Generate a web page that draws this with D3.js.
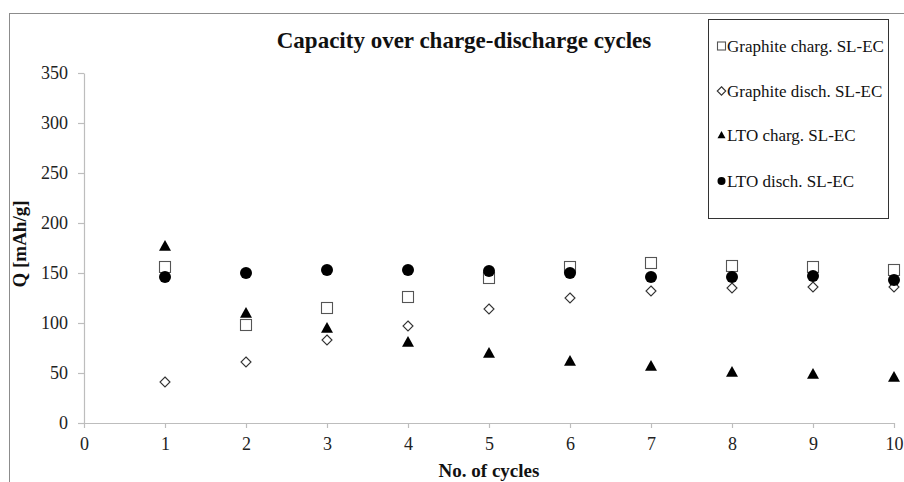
<!DOCTYPE html>
<html><head><meta charset="utf-8">
<script src="https://cdn.jsdelivr.net/npm/d3@7"></script>
<style>body{margin:0;background:#fff}svg{display:block}</style>
</head><body>
<svg id="c" width="904" height="482"></svg>
<script>
const cycles = [1,2,3,4,5,6,7,8,9,10];
const graphiteCharg = [156, 98, 115, 126, 145, 156, 160, 157, 156, 153];
const graphiteDisch = [41, 61, 83, 97, 114, 125, 132, 135, 136, 136];
const ltoCharg = [177, 110, 95, 81, 70, 62, 57, 51, 49, 46];
const ltoDisch = [146, 150, 153, 153, 152, 150, 146, 146, 147, 143];
const seriesNames = ["Graphite charg. SL-EC","Graphite disch. SL-EC","LTO charg. SL-EC","LTO disch. SL-EC"];
const xTicks = [0,1,2,3,4,5,6,7,8,9,10];
const yTicks = [0,50,100,150,200,250,300,350];

const svg = d3.select("#c");
const serif = "Liberation Serif, Times New Roman, serif";
const mL = 84, mR = 894, mT = 73, mB = 423;
const x = d3.scaleLinear().domain([0,10]).range([mL,mR]);
const y = d3.scaleLinear().domain([0,350]).range([mB,mT]);

// outer frame
svg.append("rect").attr("x",9.5).attr("y",13.5).attr("width",1000).attr("height",1000)
  .attr("fill","none").attr("stroke","#8c8c8c").attr("stroke-width",1);

// title
svg.append("text").attr("x",464).attr("y",48).attr("text-anchor","middle")
  .attr("font-family",serif).attr("font-weight","bold").attr("font-size",23).attr("fill","#111")
  .text("Capacity over charge-discharge cycles");

// axes
const ya = svg.append("g").attr("transform",`translate(${mL},0)`)
  .call(d3.axisLeft(y).tickValues(yTicks).tickSize(6).tickPadding(10).tickSizeOuter(0));
const xa = svg.append("g").attr("transform",`translate(0,${mB})`)
  .call(d3.axisBottom(x).tickValues(xTicks).tickSize(5).tickPadding(9).tickSizeOuter(0));
[ya,xa].forEach(g=>{
  g.attr("font-family",serif);
  g.selectAll("path,line").attr("stroke","#bdbdbd").attr("stroke-width",1.2);
  g.selectAll("text").attr("font-family",serif).attr("font-size",18).attr("fill","#222");
});

// axis labels
svg.append("text").attr("x",489).attr("y",477).attr("text-anchor","middle")
  .attr("font-family",serif).attr("font-weight","bold").attr("font-size",19).attr("fill","#111")
  .text("No. of cycles");
svg.append("text").attr("transform","translate(26,244) rotate(-90)").attr("text-anchor","middle")
  .attr("font-family",serif).attr("font-weight","bold").attr("font-size",19).attr("fill","#111")
  .text("Q [mAh/g]");

// marker drawing
function marker(g, type, s){
  if(type===0){ g.append("rect").attr("x",-s/2).attr("y",-s/2).attr("width",s).attr("height",s)
      .attr("fill","#fff").attr("stroke","#555").attr("stroke-width",1.1); }
  else if(type===1){ const h=s/2; g.append("path").attr("d",`M0,${-h}L${h},0L0,${h}L${-h},0Z`)
      .attr("fill","#fff").attr("stroke","#333").attr("stroke-width",1.1); }
  else if(type===2){ const w=s/2, hh=s*0.9; g.append("path").attr("d",`M0,${-hh*0.55}L${w},${hh*0.45}L${-w},${hh*0.45}Z`)
      .attr("fill","#000"); }
  else { g.append("circle").attr("r",s/2).attr("fill","#000"); }
}
const allSeries = [graphiteCharg, graphiteDisch, ltoCharg, ltoDisch];
const sizes = [11, 10, 12, 12];
const plot = svg.append("g");
allSeries.forEach((vals,si)=>{
  plot.selectAll(null).data(cycles.map((c,i)=>({c, v:vals[i]}))).enter().append("g")
    .attr("transform",d=>`translate(${x(d.c)},${y(d.v)})`)
    .each(function(){ marker(d3.select(this), si, sizes[si]); });
});

// legend
const lg = svg.append("g");
lg.append("rect").attr("x",708.5).attr("y",19.5).attr("width",180).attr("height",199)
  .attr("fill","#fff").attr("stroke","#333").attr("stroke-width",1);
const legY = [46, 91, 135, 181];
seriesNames.forEach((n,i)=>{
  const g = lg.append("g").attr("transform",`translate(721.5,${legY[i]})`);
  marker(g, i, i===1?8.5:8);
  lg.append("text").attr("x",727).attr("y",legY[i]+6).attr("font-family",serif)
    .attr("font-size",17).attr("fill","#111").text(n);
});
</script>
</body></html>
